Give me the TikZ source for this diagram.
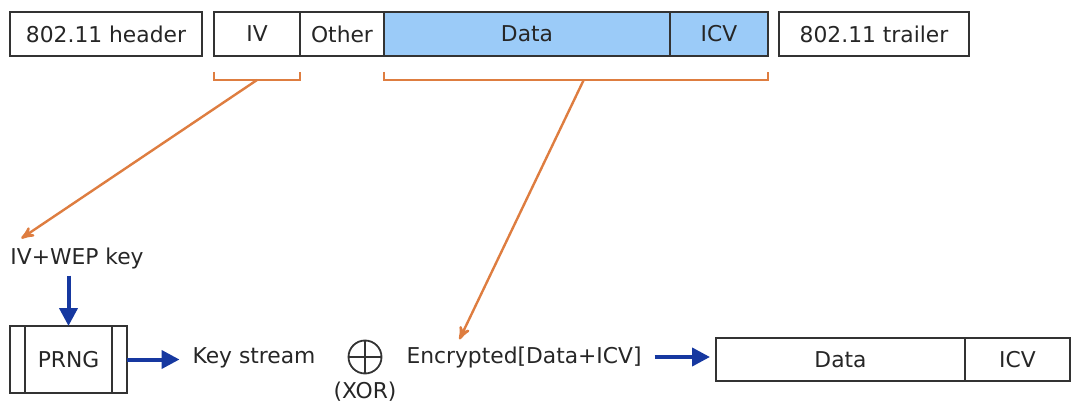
\documentclass[tikz,border=0pt]{standalone}
\usepackage{fontspec}
\setmainfont{DejaVu Sans}
\usetikzlibrary{arrows,arrows.meta,positioning}
\definecolor{cipherfill}{RGB}{155,203,248}
\definecolor{keyorange}{RGB}{222,125,64}
\definecolor{flowblue}{RGB}{22,56,160}

\begin{document}
\begin{tikzpicture}[x=.5pt,y=-.5pt,>=stealth',node distance=0pt,
                    font=\fontsize{10.9}{13}\selectfont]
\tikzstyle{field}=[draw=black!80,line width=.7pt,outer sep=0pt,inner sep=0pt,
                   minimum height=22pt,text=black!85]
\tikzstyle{cipher}=[field,fill=cipherfill]
\tikzstyle{label}=[text=black!85]
\tikzstyle{bracket}=[draw=keyorange,line width=1.2pt]
\tikzstyle{feed}=[->,draw=keyorange,line width=1.2pt]
\tikzstyle{flow}=[-{Triangle[length=9pt,width=9pt]},draw=flowblue,line width=2pt]
\useasboundingbox (0,0) rectangle (1074,405);
% the 802.11 frame
\node[field,minimum width=96pt] (hdr) at (106,34) {802.11 header};
\node[field,minimum width=43pt] (iv) at (257,34) {IV};
\node[field,minimum width=42pt,right=of iv] (other) {Other};
\node[cipher,minimum width=143pt,right=of other] (data) {Data};
\node[cipher,minimum width=49pt,right=of data] (icv) {ICV};
\node[field,minimum width=95pt] (trl) at (874,34) {802.11 trailer};
% brackets
\draw[bracket] ([yshift=-8pt]iv.south west) |- coordinate[pos=.75] (ivmid)
      ([yshift=-12pt]iv.south east) -- ([yshift=-8pt]iv.south east);
\draw[bracket] ([yshift=-8pt]data.south west) |- coordinate[pos=.76] (datamid)
      ([yshift=-12pt]icv.south east) -- ([yshift=-8pt]icv.south east);
% encryption
\node[label] (key) at (77,258) {IV+WEP key};
\node[field,minimum width=58.5pt,minimum height=33.5pt] (prng) at (68.5,359.5) {PRNG};
\draw[draw=black!80,line width=.7pt] ([xshift=7.5pt]prng.north west) -- ([xshift=7.5pt]prng.south west)
      ([xshift=-7.5pt]prng.north east) -- ([xshift=-7.5pt]prng.south east);
\node[label] (stream) at (254,358) {Key stream};
\node[circle,draw=black!80,line width=.9pt,minimum size=16.5pt,inner sep=0pt] (xor) at (365,357) {};
\draw[black!80,line width=.9pt] (xor.north) -- (xor.south) (xor.west) -- (xor.east);
\node[label,below=0pt of xor] (xorlbl) {(XOR)};
\node[label] (enc) at (524,357) {Encrypted[Data+ICV]};
\node[field,minimum width=124.5pt,minimum height=21.5pt] (outdata) at (840.5,359.5) {Data};
\node[field,minimum width=52.5pt,minimum height=21.5pt,right=of outdata] (outicv) {ICV};
% arrows
\draw[feed] (ivmid) -- ([xshift=9pt,yshift=1pt]key.north west);
\draw[feed] (datamid) -- ([xshift=30pt]enc.north west);
\draw[flow] (prng.north |- key.south) -- (prng.north);
\draw[flow] (prng.east) -- ([xshift=-3pt]prng.east -| stream.west);
\draw[flow] ([xshift=3pt]enc.east) -- ([xshift=-3pt]enc.east -| outdata.west);
\end{tikzpicture}
\end{document}
